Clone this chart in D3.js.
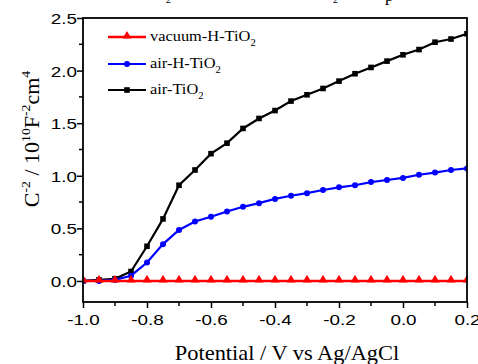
<!DOCTYPE html>
<html lang="en">
<head>
  <meta charset="UTF-8">
  <title>Mott-Schottky plot</title>
  <script src="https://d3js.org/d3.v7.min.js"></script>
  <style>
    body { margin: 0; background: #fff; }
    svg { display: block; }
    .tick-label { font-family: "Liberation Sans", Arial, sans-serif; font-size: 15.5px; fill: #000; }
    .serif { font-family: "Liberation Serif", "Times New Roman", serif; fill: #000; }
  </style>
</head>
<body>
  <svg id="chart" width="478" height="364"></svg>
  <script>
    // potentials (V vs Ag/AgCl), 0.05 V steps
    const potential = d3.range(-1.0, 0.2001, 0.05).map(v => +v.toFixed(2));

    const vacuumHTiO2 = [0, 0, 0, 0, 0, 0, 0, 0, 0, 0, 0, 0, 0, 0, 0, 0, 0, 0, 0, 0, 0, 0, 0, 0, 0];
    const airHTiO2 = [0.0, 0.0, 0.01, 0.05, 0.175, 0.35, 0.485, 0.565, 0.61, 0.66, 0.705, 0.74, 0.78,
                      0.81, 0.835, 0.865, 0.89, 0.91, 0.94, 0.96, 0.98, 1.01, 1.03, 1.055, 1.07];
    const airTiO2 = [0.0, 0.01, 0.02, 0.09, 0.33, 0.59, 0.91, 1.055, 1.21, 1.31, 1.45, 1.545, 1.62,
                     1.71, 1.77, 1.83, 1.90, 1.97, 2.03, 2.09, 2.15, 2.20, 2.27, 2.30, 2.35];

    const xTicks = [-1.0, -0.8, -0.6, -0.4, -0.2, 0.0, 0.2];
    const yTicks = [0.0, 0.5, 1.0, 1.5, 2.0, 2.5];

    const series = [
      { name: 'vacuum-H-TiO', values: vacuumHTiO2, color: '#ff0000', marker: 'triangle', width: 2.5 },
      { name: 'air-H-TiO', values: airHTiO2, color: '#0000ff', marker: 'circle', width: 2.2 },
      { name: 'air-TiO', values: airTiO2, color: '#000000', marker: 'square', width: 2.2 }
    ];

    const svg = d3.select('#chart');
    const mLeft = 83, mRight = 467, mTop = 18, mBottom = 302;
    const stretch = 1.22; // glyphs in the source are a bit wider than the fonts here

    const x = d3.scaleLinear().domain([-1.0, 0.2]).range([mLeft, mRight]);
    const y = d3.scaleLinear().domain([-0.2, 2.5]).range([mBottom, mTop]);

    // clipped caption remnants at the very top
    svg.append('text').attr('class', 'serif').attr('x', 166).attr('y', 3)
      .attr('font-size', 10).text('2');
    svg.append('text').attr('class', 'serif').attr('x', 333).attr('y', 3)
      .attr('font-size', 10).text('2');
    svg.append('text').attr('class', 'serif').attr('x', 385).attr('y', 1)
      .attr('font-size', 17).text('p');

    // axes
    const xAxis = d3.axisBottom(x).tickValues(xTicks).tickSize(6).tickFormat(d3.format('.1f'));
    const yAxis = d3.axisLeft(y).tickValues(yTicks).tickSize(6).tickFormat(d3.format('.1f'));

    const gx = svg.append('g').attr('transform', `translate(0,${mBottom})`).call(xAxis);
    const gy = svg.append('g').attr('transform', `translate(${mLeft},0)`).call(yAxis);
    [gx, gy].forEach(g => {
      g.select('.domain').remove();
      g.selectAll('line').attr('stroke', '#000').attr('stroke-width', 1.5);
      g.selectAll('text').attr('class', 'tick-label').attr('font-size', null).attr('font-family', null)
        .attr('transform', `scale(${stretch},1)`);
    });
    gx.selectAll('text').attr('dy', '1.05em').attr('y', 7)
      .text(d => (d < 0 ? '-' : '') + Math.abs(d).toFixed(1));
    gy.selectAll('text').attr('x', -6 / stretch).attr('dy', '0.35em');

    // minor ticks
    const xMinor = d3.range(-0.9, 0.2, 0.2);
    const yMinor = d3.range(-0.25, 2.5, 0.5).filter(v => v > -0.2);
    svg.append('g').selectAll('line').data(xMinor).join('line')
      .attr('x1', d => x(d)).attr('x2', d => x(d))
      .attr('y1', mBottom).attr('y2', mBottom + 4)
      .attr('stroke', '#000').attr('stroke-width', 1.5);
    svg.append('g').selectAll('line').data(yMinor).join('line')
      .attr('x1', mLeft - 4).attr('x2', mLeft)
      .attr('y1', d => y(d)).attr('y2', d => y(d))
      .attr('stroke', '#000').attr('stroke-width', 1.5);

    // series
    const line = d3.line().x((d, i) => x(potential[i])).y(d => y(d));
    const tri = d3.symbol().type(d3.symbolTriangle).size(34);

    function drawMarker(g, s, cx, cy) {
      if (s.marker === 'triangle') {
        g.append('path').attr('d', tri()).attr('transform', `translate(${cx},${cy - 1})`).attr('fill', s.color);
      } else if (s.marker === 'circle') {
        g.append('circle').attr('cx', cx).attr('cy', cy).attr('r', 3).attr('fill', s.color);
      } else {
        g.append('rect').attr('x', cx - 2.8).attr('y', cy - 2.8).attr('width', 5.6).attr('height', 5.6).attr('fill', s.color);
      }
    }

    svg.append('clipPath').attr('id', 'plot-clip').append('rect')
      .attr('x', mLeft).attr('y', mTop).attr('width', mRight - mLeft).attr('height', mBottom - mTop);

    const plot = svg.append('g').attr('clip-path', 'url(#plot-clip)');
    // draw in reverse so red sits on top
    series.slice().reverse().forEach(s => {
      const g = plot.append('g');
      g.append('path').datum(s.values).attr('d', line)
        .attr('fill', 'none').attr('stroke', s.color).attr('stroke-width', s.width);
      s.values.forEach((v, i) => drawMarker(g, s, x(potential[i]), y(v)));
    });

    // frame
    svg.append('rect').attr('x', mLeft).attr('y', mTop).attr('width', mRight - mLeft).attr('height', mBottom - mTop)
      .attr('fill', 'none').attr('stroke', '#000').attr('stroke-width', 1.8);

    // legend
    const legendY = [37, 64, 90];
    series.forEach((s, i) => {
      const g = svg.append('g');
      g.append('line').attr('x1', 108).attr('x2', 146).attr('y1', legendY[i]).attr('y2', legendY[i])
        .attr('stroke', s.color).attr('stroke-width', s.width);
      drawMarker(g, s, 127, legendY[i]);
      const t = g.append('text').attr('class', 'serif')
        .attr('transform', `translate(150,${legendY[i] + 4}) scale(1.13,1)`)
        .attr('font-size', 14.5);
      t.append('tspan').text(s.name);
      t.append('tspan').attr('font-size', 9.5).attr('dy', 5).text('2');
    });

    // axis titles
    svg.append('text').attr('class', 'serif')
      .attr('transform', 'translate(287,360) scale(1.12,1)')
      .attr('text-anchor', 'middle').attr('font-size', 20)
      .text('Potential / V vs Ag/AgCl');

    const yl = svg.append('text').attr('class', 'serif')
      .attr('transform', 'translate(39,139) rotate(-90) scale(1.1,1)')
      .attr('text-anchor', 'middle').attr('font-size', 20);
    yl.append('tspan').text('C');
    yl.append('tspan').attr('font-size', 12.5).attr('dy', -9).text('-2');
    yl.append('tspan').attr('dy', 9).text(' / 10');
    yl.append('tspan').attr('font-size', 12.5).attr('dy', -9).text('10');
    yl.append('tspan').attr('dy', 9).text('F');
    yl.append('tspan').attr('font-size', 12.5).attr('dy', -9).text('-2');
    yl.append('tspan').attr('dy', 9).text('cm');
    yl.append('tspan').attr('font-size', 12.5).attr('dy', -9).text('4');
  </script>
</body>
</html>
